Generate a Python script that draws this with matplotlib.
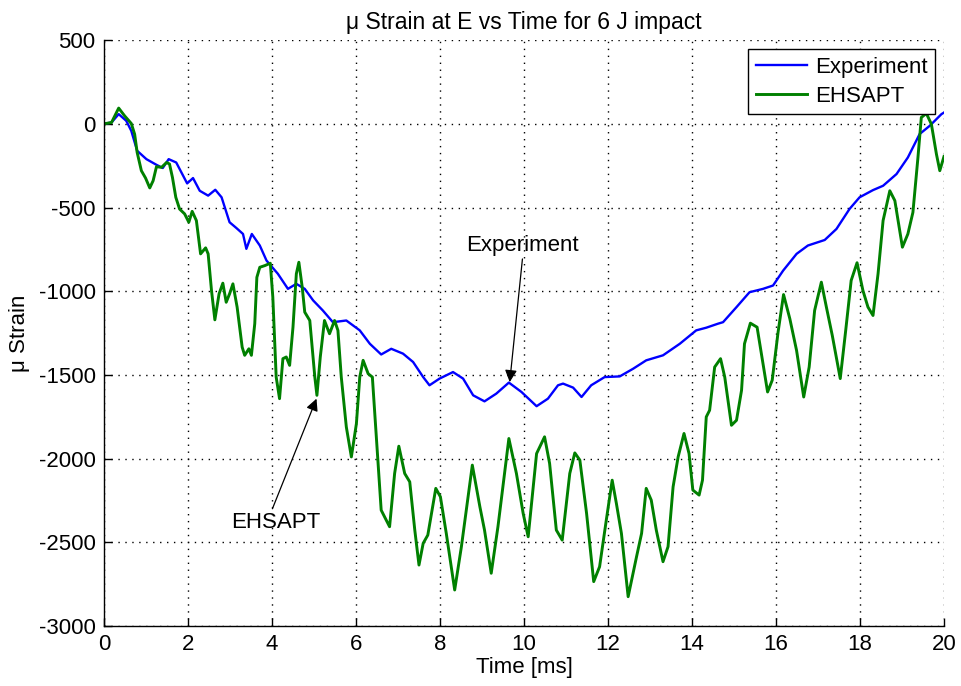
import matplotlib
matplotlib.use("Agg")
import matplotlib.pyplot as plt

plt.rcParams['font.family'] = ['Liberation Sans', 'DejaVu Sans']
plt.rcParams['axes.unicode_minus'] = False

# Measured strain at point E (blue trace)
exp_time = [0.00, 0.18, 0.35, 0.53, 0.65, 0.79, 1.01, 1.25, 1.40, 1.54, 1.72, 1.98,
            2.12, 2.28, 2.48, 2.65, 2.80, 2.99, 3.15, 3.31, 3.39, 3.52, 3.71, 3.87,
            4.14, 4.38, 4.58, 4.78, 4.98, 5.21, 5.45, 5.77, 6.09, 6.33, 6.60, 6.84,
            7.12, 7.36, 7.60, 7.75, 7.99, 8.31, 8.55, 8.79, 9.06, 9.34, 9.64, 9.94,
            10.30, 10.57, 10.81, 10.93, 11.17, 11.37, 11.60, 11.92, 12.28, 12.60,
            12.91, 13.31, 13.71, 14.10, 14.34, 14.62, 14.74, 15.06, 15.37, 15.69,
            15.93, 16.17, 16.49, 16.76, 17.16, 17.44, 17.75, 17.99, 18.31, 18.55,
            18.87, 19.14, 19.42, 19.66, 19.94, 20.00]
exp_strain = [0, 8, 58, 18, -42, -161, -211, -245, -264, -211, -231, -356,
              -324, -400, -429, -394, -439, -588, -622, -658, -747, -658, -727, -817,
              -896, -986, -956, -986, -1055, -1115, -1185, -1175, -1234, -1314, -1378, -1344,
              -1373, -1423, -1513, -1562, -1522, -1483, -1522, -1622, -1658, -1612, -1546, -1602,
              -1687, -1642, -1562, -1552, -1576, -1632, -1562, -1513, -1509, -1463,
              -1413, -1383, -1314, -1234, -1218, -1194, -1185, -1095, -1006, -986,
              -966, -877, -777, -727, -694, -628, -509, -439, -396, -370,
              -300, -201, -61, -12, 58, 67]

# EHSAPT prediction (green trace)
model_time = [0.00, 0.18, 0.35, 0.49, 0.65, 0.73, 0.79, 0.89, 0.99, 1.09, 1.17, 1.25,
              1.37, 1.49, 1.56, 1.63, 1.71, 1.80, 1.92, 2.02, 2.10, 2.20, 2.30, 2.42,
              2.48, 2.56, 2.64, 2.74, 2.83, 2.91, 2.99, 3.07, 3.17, 3.29, 3.35, 3.45,
              3.51, 3.59, 3.64, 3.71, 3.83, 3.96, 4.02, 4.10, 4.18, 4.26, 4.34, 4.42,
              4.50, 4.58, 4.64, 4.72, 4.78, 4.90, 5.02, 5.07, 5.15, 5.25, 5.37, 5.49,
              5.57, 5.65, 5.77, 5.89, 6.01, 6.09, 6.17, 6.29, 6.39, 6.49, 6.60, 6.80,
              6.92, 7.02, 7.16, 7.28, 7.40, 7.50, 7.60, 7.71, 7.90, 8.01, 8.15, 8.35,
              8.51, 8.77, 8.95, 9.06, 9.22, 9.38, 9.64, 9.82, 9.98, 10.10, 10.30, 10.49,
              10.61, 10.77, 10.91, 11.09, 11.21, 11.33, 11.49, 11.66, 11.80, 11.96, 12.10,
              12.20, 12.32, 12.48, 12.68, 12.80, 12.91, 13.03, 13.15, 13.31, 13.43, 13.55,
              13.67, 13.81, 13.93, 14.02, 14.17, 14.25, 14.34, 14.42, 14.54, 14.68, 14.78,
              14.94, 15.06, 15.18, 15.25, 15.39, 15.55, 15.69, 15.80, 15.91, 16.05, 16.18,
              16.33, 16.49, 16.66, 16.79, 16.92, 17.08, 17.20, 17.34, 17.53, 17.66, 17.79,
              17.93, 18.07, 18.19, 18.31, 18.43, 18.55, 18.71, 18.83, 19.01, 19.14, 19.26,
              19.38, 19.46, 19.58, 19.70, 19.82, 19.90, 20.00]
model_strain = [0, 8, 94, 48, 2, -62, -171, -280, -324, -383, -340, -256,
                -260, -231, -240, -320, -439, -509, -538, -588, -523, -578, -777, -741,
                -777, -996, -1171, -1016, -952, -1066, -1016, -956, -1095, -1334, -1383, -1344,
                -1383, -1194, -917, -857, -847, -833, -1036, -1513, -1642, -1403, -1393, -1443,
                -1215, -896, -827, -976, -1125, -1175, -1513, -1622, -1393, -1175, -1254, -1175,
                -1234, -1513, -1811, -1990, -1791, -1513, -1413, -1493, -1513, -1890, -2308, -2407,
                -2089, -1926, -2089, -2139, -2427, -2636, -2506, -2457, -2178, -2228, -2447, -2785,
                -2526, -2039, -2288, -2427, -2685, -2407, -1880, -2089, -2327, -2467, -1970, -1870,
                -2029, -2427, -2487, -2089, -1966, -2009, -2327, -2735, -2646, -2367, -2129,
                -2268, -2447, -2825, -2586, -2447, -2178, -2248, -2427, -2616, -2526, -2169,
                -1990, -1850, -1970, -2188, -2218, -2129, -1751, -1711, -1453, -1403, -1513,
                -1801, -1771, -1592, -1314, -1191, -1215, -1433, -1602, -1532, -1244, -1020,
                -1165, -1354, -1632, -1453, -1115, -946, -1095, -1264, -1522, -1234, -936,
                -830, -996, -1095, -1145, -896, -578, -400, -459, -737, -658, -529,
                -201, 38, 62, -2, -181, -280, -195]

x_ticks = list(range(0, 21, 2))
y_ticks = list(range(-3000, 501, 500))

fig = plt.figure(figsize=(9.61, 6.86), dpi=100)
ax = fig.add_axes([0.1082, 0.0875, 0.8741, 0.8540])

ax.plot(exp_time, exp_strain, color=(0, 0, 1), lw=1.7, label='Experiment')
ax.plot(model_time, model_strain, color=(0, 0.5, 0), lw=2.1, label='EHSAPT')

ax.set_xlim(0, 20)
ax.set_ylim(-3000, 500)
ax.set_xticks(x_ticks)
ax.set_yticks(y_ticks)
ax.tick_params(direction='in', length=6, width=1, labelsize=16, pad=6)
ax.grid(True, linestyle=(0, (1, 4)), color='k', lw=1.0)
ax.spines['top'].set_visible(False)
ax.spines['right'].set_visible(False)
for s in ('left', 'bottom'):
    ax.spines[s].set_linewidth(1.0)

ax.set_title('\u03bc Strain at E vs Time for 6 J impact', fontsize=16.5, pad=8)
ax.set_xlabel('Time [ms]', fontsize=16, labelpad=1)
ax.set_ylabel('\u03bc Strain', fontsize=16, labelpad=6)

leg = ax.legend(loc='upper right', fontsize=16, frameon=True, fancybox=False,
                edgecolor='k', framealpha=1, borderaxespad=0.4, handlelength=2.3,
                borderpad=0.35, labelspacing=0.35, handletextpad=0.35)
leg.get_frame().set_linewidth(1.0)

arrow = dict(arrowstyle='-|>', color='k', lw=0.9, mutation_scale=18,
             shrinkA=0, shrinkB=0)
ax.annotate('Experiment', xy=(9.66, -1543), xytext=(9.97, -728),
            fontsize=16, ha='center', va='center',
            arrowprops=dict(arrow, relpos=(0.5, 0.0)))
ax.annotate('EHSAPT', xy=(5.06, -1642), xytext=(4.09, -2379),
            fontsize=16, ha='center', va='center',
            arrowprops=dict(arrow, relpos=(0.45, 1.0)))

fig.savefig('out.png', dpi=100)
